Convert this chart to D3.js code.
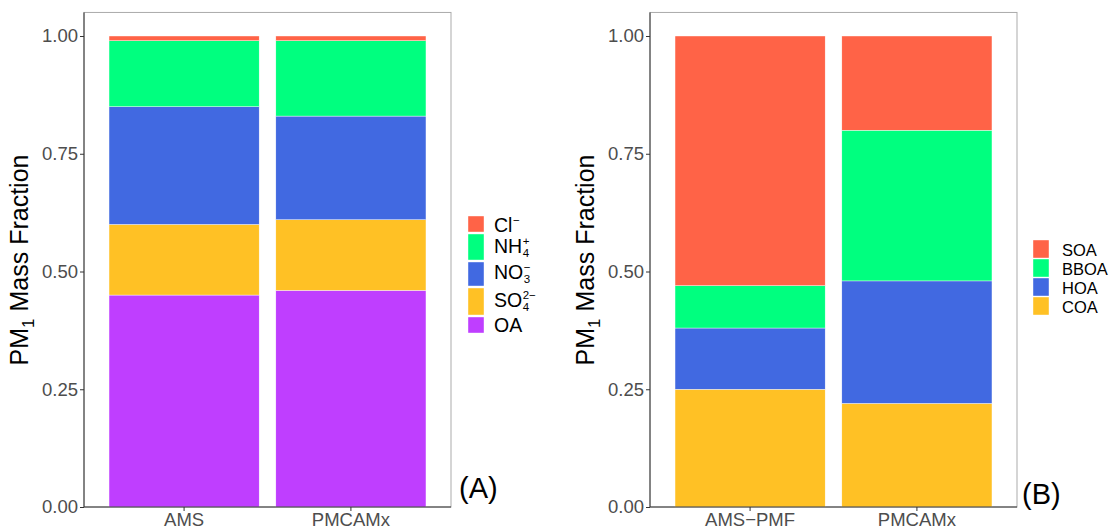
<!DOCTYPE html>
<html>
<head>
<meta charset="utf-8">
<script src="https://cdn.jsdelivr.net/npm/d3@7"></script>
<style>
  body { margin: 0; background: #fff; }
  text { font-family: "Liberation Sans", Arial, Helvetica, sans-serif; }
</style>
</head>
<body>
<script>
// panel A data: bulk PM1 composition
var catsA = ["AMS", "PMCAMx"];
var keysA = ["OA", "SO4", "NO3", "NH4", "Cl"];
var oaVals  = [0.45, 0.46];
var so4Vals = [0.15, 0.15];
var no3Vals = [0.25, 0.22];
var nh4Vals = [0.14, 0.16];
var clVals  = [0.01, 0.01];
var colorsA = ["#BF3EFF", "#FFC125", "#4169E1", "#00FF7F", "#FF6347"];

// panel B data: OA source apportionment
var catsB = ["AMS\u2212PMF", "PMCAMx"];
var keysB = ["COA", "HOA", "BBOA", "SOA"];
var coaVals  = [0.25, 0.22];
var hoaVals  = [0.13, 0.26];
var bboaVals = [0.09, 0.32];
var soaVals  = [0.53, 0.20];
var colorsB = ["#FFC125", "#4169E1", "#00FF7F", "#FF6347"];

var yTicks = [0, 0.25, 0.5, 0.75, 1];

// legend labels: base text + subscript + superscript
var legendA = [
  {key: "Cl",  base: "Cl", sub: "",  sup: "\u2212"},
  {key: "NH4", base: "NH", sub: "4", sup: "+"},
  {key: "NO3", base: "NO", sub: "3", sup: "\u2212"},
  {key: "SO4", base: "SO", sub: "4", sup: "2\u2212"},
  {key: "OA",  base: "OA", sub: "",  sup: ""}
];
var legendB = ["SOA", "BBOA", "HOA", "COA"];

var svg = d3.select("body").append("svg")
    .attr("width", 1119)
    .attr("height", 530);

function buildRows(cats, keys, series) {
    return cats.map(function (c, i) {
        var row = {cat: c};
        keys.forEach(function (k, j) { row[k] = series[j][i]; });
        return row;
    });
}

function drawPanel(left, rows, cats, keys, colors) {
    var right = left + 367;
    var x = d3.scaleBand().domain(cats).range([left, right])
        .paddingInner(0.1).paddingOuter(0.15);
    var y = d3.scaleLinear().domain([0, 1]).range([507, 36]);
    var top = y(1.05);

    // panel border (top/right grey)
    svg.append("rect")
        .attr("x", left).attr("y", top)
        .attr("width", right - left).attr("height", 507 - top)
        .attr("fill", "none").attr("stroke", "#ABABAB").attr("stroke-width", 1);

    var stacked = d3.stack().keys(keys)(rows);
    var color = d3.scaleOrdinal().domain(keys).range(colors);

    svg.append("g").selectAll("g")
        .data(stacked)
        .join("g")
        .attr("fill", function (d) { return color(d.key); })
        .selectAll("rect")
        .data(function (d) { return d; })
        .join("rect")
        .attr("x", function (d) { return x(d.data.cat); })
        .attr("width", x.bandwidth())
        .attr("y", function (d) { return y(d[1]); })
        .attr("height", function (d) { return y(d[0]) - y(d[1]); })
        .attr("stroke", "white")
        .attr("stroke-width", 0.4);

    var ya = svg.append("g")
        .attr("transform", "translate(" + left + ",0)")
        .call(d3.axisLeft(y).tickValues(yTicks).tickFormat(d3.format(".2f"))
            .tickSize(4).tickPadding(2).tickSizeOuter(0));
    ya.select(".domain").attr("d", "M0," + top + "V507").attr("stroke", "#333");
    ya.selectAll(".tick line").attr("stroke", "#333");
    ya.selectAll(".tick text").attr("fill", "#4D4D4D").style("font-size", "18.5px")
        .style("font-family", "'Liberation Sans', Arial, sans-serif");

    var xa = svg.append("g")
        .attr("transform", "translate(0,507)")
        .call(d3.axisBottom(x).tickSize(4).tickPadding(2).tickSizeOuter(0));
    xa.select(".domain").attr("d", "M" + left + ",0H" + right).attr("stroke", "#333");
    xa.selectAll(".tick line").attr("stroke", "#333");
    xa.selectAll(".tick text").attr("fill", "#4D4D4D").style("font-size", "18.5px")
        .style("font-family", "'Liberation Sans', Arial, sans-serif");

    // y axis title PM1 Mass Fraction
    var t = svg.append("text")
        .attr("transform", "translate(" + (left - 56) + ",260) rotate(-90)")
        .attr("text-anchor", "middle")
        .style("font-size", "25px")
        .attr("fill", "black");
    t.append("tspan").text("PM");
    t.append("tspan").text("1").attr("dy", 6).style("font-size", "17px");
    t.append("tspan").text(" Mass Fraction").attr("dy", -6);
}

drawPanel(84, buildRows(catsA, keysA, [oaVals, so4Vals, no3Vals, nh4Vals, clVals]),
    catsA, keysA, colorsA);
drawPanel(650, buildRows(catsB, keysB, [coaVals, hoaVals, bboaVals, soaVals]),
    catsB, keysB, colorsB);

// legend A (keys have uneven heights because of the super/subscripts)
var colA = d3.scaleOrdinal().domain(keysA).range(colorsA);
var keyBoxesA = [[216, 232], [234, 260], [262, 286], [288, 315], [317, 333]];
var baseA = [232, 253, 279, 307, 332];
legendA.forEach(function (d, i) {
    svg.append("rect")
        .attr("x", 468).attr("y", keyBoxesA[i][0])
        .attr("width", 16).attr("height", keyBoxesA[i][1] - keyBoxesA[i][0])
        .attr("fill", colA(d.key)).attr("stroke", "white").attr("stroke-width", 0.4);
    var bt = svg.append("text").attr("x", 494).attr("y", baseA[i])
        .style("font-size", "19.5px").text(d.base);
    var w = bt.node().getComputedTextLength();
    if (d.sub) {
        svg.append("text").attr("x", 494 + w + 0.5).attr("y", baseA[i] + 4)
            .style("font-size", "11.5px").text(d.sub);
    }
    if (d.sup) {
        svg.append("text").attr("x", 494 + w + 0.5).attr("y", baseA[i] - 8)
            .style("font-size", "11.5px").text(d.sup);
    }
});

// legend B
var colB = d3.scaleOrdinal().domain(keysB).range(colorsB);
var legB = svg.append("g").selectAll("g")
    .data(legendB)
    .join("g")
    .attr("transform", function (k, i) { return "translate(1033," + (240 + i * 19) + ")"; });
legB.append("rect")
    .attr("width", 16).attr("height", 18)
    .attr("fill", function (k) { return colB(k); })
    .attr("stroke", "white").attr("stroke-width", 0.4);
legB.append("text")
    .attr("x", 29).attr("y", 15.5)
    .style("font-size", "16.5px")
    .text(function (k) { return k; });

// panel tags
svg.append("text").attr("x", 459).attr("y", 498)
    .style("font-size", "29px").text("(A)");
svg.append("text").attr("x", 1022).attr("y", 504)
    .style("font-size", "29px").text("(B)");
</script>
</body>
</html>
